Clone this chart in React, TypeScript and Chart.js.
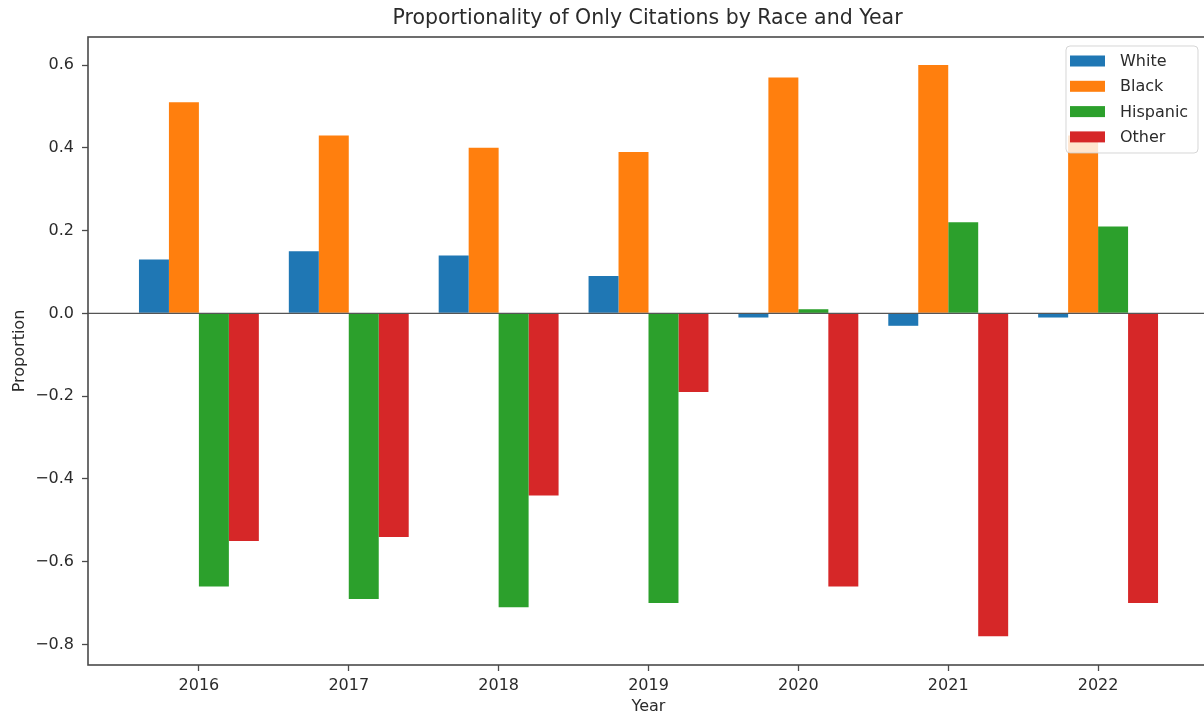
import React, { useEffect, useRef } from 'react';
import { Chart, registerables } from 'chart.js';

Chart.register(...registerables);

const years = [2016, 2017, 2018, 2019, 2020, 2021, 2022];
const seriesNames = ['White', 'Black', 'Hispanic', 'Other'];
const whiteValues = [0.13, 0.15, 0.14, 0.09, -0.01, -0.03, -0.01];
const blackValues = [0.51, 0.43, 0.40, 0.39, 0.57, 0.60, 0.43];
const hispanicValues = [-0.66, -0.69, -0.71, -0.70, 0.01, 0.22, 0.21];
const otherValues = [-0.55, -0.54, -0.44, -0.19, -0.66, -0.78, -0.70];
const yTickValues = [-0.8, -0.6, -0.4, -0.2, 0, 0.2, 0.4, 0.6];
const seriesColors = ['#1f77b4', '#ff7f0e', '#2ca02c', '#d62728'];
const titleText = 'Proportionality of Only Citations by Race and Year';
const xTitle = 'Year';
const yTitle = 'Proportion';

const FONT = "'DejaVu Sans', sans-serif";
const TEXT = '#2b2b2b';
const SPINE = '#4a4a4a';

const decoPlugin = {
  id: 'deco',
  afterDatasetsDraw(chart: any) {
    const { ctx, chartArea: ca, scales } = chart;
    ctx.save();
    // zero line
    const y0 = scales.y.getPixelForValue(0);
    ctx.strokeStyle = '#555555';
    ctx.lineWidth = 1.4;
    ctx.beginPath();
    ctx.moveTo(ca.left, y0);
    ctx.lineTo(ca.right, y0);
    ctx.stroke();
    // frame
    ctx.strokeStyle = SPINE;
    ctx.lineWidth = 1.6;
    ctx.strokeRect(ca.left, ca.top, ca.right - ca.left, ca.bottom - ca.top);

    // legend
    const w = 132, h = 107;
    const bx = ca.right - 11 - w;
    const by = ca.top + 9;
    const r = 4;
    ctx.beginPath();
    ctx.moveTo(bx + r, by);
    ctx.lineTo(bx + w - r, by);
    ctx.arcTo(bx + w, by, bx + w, by + r, r);
    ctx.lineTo(bx + w, by + h - r);
    ctx.arcTo(bx + w, by + h, bx + w - r, by + h, r);
    ctx.lineTo(bx + r, by + h);
    ctx.arcTo(bx, by + h, bx, by + h - r, r);
    ctx.lineTo(bx, by + r);
    ctx.arcTo(bx, by, bx + r, by, r);
    ctx.closePath();
    ctx.fillStyle = 'rgba(255,255,255,0.8)';
    ctx.fill();
    ctx.strokeStyle = 'rgba(204,204,204,0.8)';
    ctx.lineWidth = 1;
    ctx.stroke();
    ctx.font = `16px ${FONT}`;
    ctx.textBaseline = 'middle';
    ctx.textAlign = 'left';
    chart.data.datasets.forEach((ds: any, i: number) => {
      const cy = by + 15 + i * 25.3;
      ctx.fillStyle = ds.backgroundColor;
      ctx.fillRect(bx + 4, cy - 5.5, 35, 11);
      ctx.fillStyle = TEXT;
      ctx.fillText(ds.label, bx + 54, cy + 1);
    });

    // title
    ctx.font = `20.5px ${FONT}`;
    ctx.textAlign = 'center';
    ctx.textBaseline = 'middle';
    ctx.fillStyle = TEXT;
    ctx.fillText(titleText, (ca.left + ca.right) / 2 - 1, 19);
    ctx.restore();
  },
};

export default function App() {
  const ref = useRef<HTMLCanvasElement | null>(null);
  useEffect(() => {
    if (!ref.current) return;
    const all = [whiteValues, blackValues, hispanicValues, otherValues];
    const chart = new Chart(ref.current, {
      type: 'bar',
      data: {
        datasets: seriesNames.map((name, i) => ({
          label: name,
          data: years.map((yr, j) => ({ x: yr, y: all[i][j] })),
          backgroundColor: seriesColors[i],
          borderWidth: 0,
          categoryPercentage: 0.8,
          barPercentage: 1.0,
        })),
      },
      options: {
        responsive: false,
        animation: false,
        devicePixelRatio: 1,
        layout: { padding: { left: 0, right: 7, top: 37, bottom: 0 } },
        plugins: {
          legend: { display: false },
          title: { display: false },
          tooltip: { enabled: false },
        },
        scales: {
          x: {
            type: 'linear',
            min: 2015.26,
            max: 2022.74,
            offset: false,
            afterBuildTicks: (scale: any) => {
              scale.ticks = years.map((v) => ({ value: v }));
            },
            afterFit: (scale: any) => {
              scale.height = 52;
            },
            ticks: {
              callback: (v: any) => String(v),
              font: { family: FONT, size: 16 },
              color: TEXT,
              padding: 5,
              maxRotation: 0,
              autoSkip: false,
            },
            grid: {
              display: true,
              offset: false,
              drawOnChartArea: false,
              drawTicks: true,
              tickLength: 6,
              tickColor: SPINE,
              tickWidth: 1.3,
            },
            border: { display: false },
            title: {
              display: true,
              text: xTitle,
              font: { family: FONT, size: 16 },
              color: TEXT,
              padding: { top: 0, bottom: 1 },
            },
          },
          y: {
            type: 'linear',
            min: -0.8495,
            max: 0.6677,
            afterBuildTicks: (scale: any) => {
              scale.ticks = yTickValues.map((v) => ({ value: v }));
            },
            afterFit: (scale: any) => {
              scale.width = 88;
            },
            ticks: {
              callback: (v: any) => {
                const s = Math.abs(v).toFixed(1);
                return v < -1e-9 ? '\u2212' + s : s;
              },
              font: { family: FONT, size: 16 },
              color: TEXT,
              padding: 8,
            },
            grid: {
              display: true,
              drawOnChartArea: false,
              drawTicks: true,
              tickLength: 6,
              tickColor: SPINE,
              tickWidth: 1.3,
            },
            border: { display: false },
            title: {
              display: true,
              text: yTitle,
              font: { family: FONT, size: 16 },
              color: TEXT,
              padding: { top: 10, bottom: 0 },
            },
          },
        },
      },
      plugins: [decoPlugin],
    } as any);
    return () => chart.destroy();
  }, []);

  return (
    <div
      style={{
        position: 'fixed',
        left: 0,
        top: 0,
        width: 1204,
        height: 717,
        overflow: 'hidden',
        background: '#ffffff',
      }}
    >
      <canvas ref={ref} width={1216} height={717} style={{ display: 'block' }} />
    </div>
  );
}
